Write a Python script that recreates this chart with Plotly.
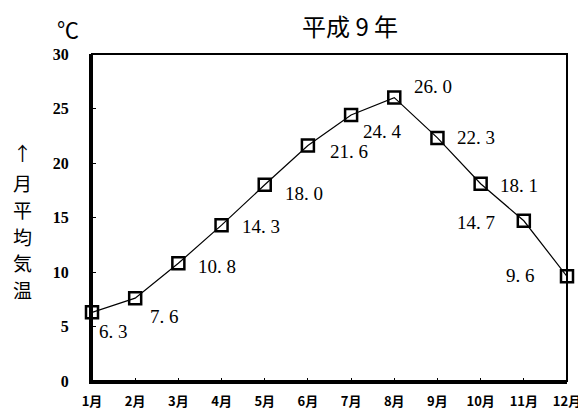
import plotly.graph_objects as go

months = list(range(1, 13))
month_labels = [f"{m}月" for m in months]
temps = [6.3, 7.6, 10.8, 14.3, 18.0, 21.6, 24.4, 26.0, 22.3, 18.1, 14.7, 9.6]
y_ticks = [0, 5, 10, 15, 20, 25, 30]
y_title_chars = ["↑", "月", "平", "均", "気", "温"]

# label placement relative to each marker (anchor side, x px, y px down)
label_side = ["left"] * 10 + ["right", "right"]
label_dx = [5, 13, 18, 18, 18, 20, 10, 18, 18, 17, -27, -30]
label_dy = [19, 18, 3, 1, 9, 6, 16, -11, 0, 2, 2, -1]

# page body adds 8px margin, so the figure is drawn 8px smaller
W, H = 578, 403
L, R, T, B = 84, 19, 46, 30
X0, Y0 = 92, 54          # plot area top-left on screen
pw, ph = W - L - R, H - T - B


def px(x):
    return (x - X0) / pw


def py(y):
    return 1 - (y - Y0) / ph


fig = go.Figure()

fig.add_trace(go.Scatter(
    x=months, y=temps,
    mode="lines+markers",
    line=dict(color="black", width=1.2),
    marker=dict(symbol="square-open", size=12, color="black", line=dict(width=2.5)),
    cliponaxis=False,
    hoverinfo="x+y",
))

annos = []
for m, t, side, dx, dy in zip(months, temps, label_side, label_dx, label_dy):
    annos.append(dict(
        x=m, y=t, xref="x", yref="y", text=f"{t:.1f}".replace(".", ". "),
        showarrow=False, xanchor=side, yanchor="middle", xshift=dx, yshift=-dy,
        font=dict(family="Liberation Serif", size=19, color="black"),
    ))

annos += [
    dict(text="平成 9 年", x=px(350), y=py(26), xref="paper", yref="paper",
         xanchor="center", yanchor="middle",
         showarrow=False, font=dict(family="Noto Sans CJK JP", size=24, color="black")),
    dict(text="℃", x=px(68), y=py(28), xref="paper", yref="paper",
         xanchor="center", yanchor="middle",
         showarrow=False, font=dict(family="Noto Sans CJK JP", size=22, color="black")),
]
for ch, cy in zip(y_title_chars, [152, 182, 209, 236, 262, 289]):
    annos.append(dict(text=ch, x=px(22), y=py(cy), xref="paper", yref="paper",
                      xanchor="center", yanchor="middle", showarrow=False,
                      font=dict(family="Noto Sans CJK JP", size=19, color="black")))

fig.update_layout(
    width=W, height=H,
    margin=dict(l=L, r=R, t=T, b=B),
    plot_bgcolor="white", paper_bgcolor="white",
    showlegend=False,
    shapes=[dict(type="rect", xref="paper", yref="paper", x0=0, x1=1, y0=0, y1=1,
                 line=dict(color="black", width=2))],
    annotations=annos,
)

fig.update_xaxes(
    range=[1, 12], tickvals=months, ticktext=month_labels, automargin=False,
    showline=True, linecolor="black", linewidth=3,
    ticks="inside", ticklen=3, tickcolor="black",
    showgrid=False, zeroline=False, ticklabelstandoff=6,
    tickfont=dict(family="Noto Sans CJK JP", size=13, color="black", weight="bold"),
)
fig.update_yaxes(
    range=[0, 30], tickvals=y_ticks, automargin=False,
    showline=True, linecolor="black", linewidth=3,
    ticks="inside", ticklen=4, tickcolor="black",
    showgrid=False, zeroline=False, ticklabelstandoff=17,
    tickfont=dict(family="Liberation Sans Narrow", size=16, color="black", weight="bold"),
)

fig.write_html("out.html")
